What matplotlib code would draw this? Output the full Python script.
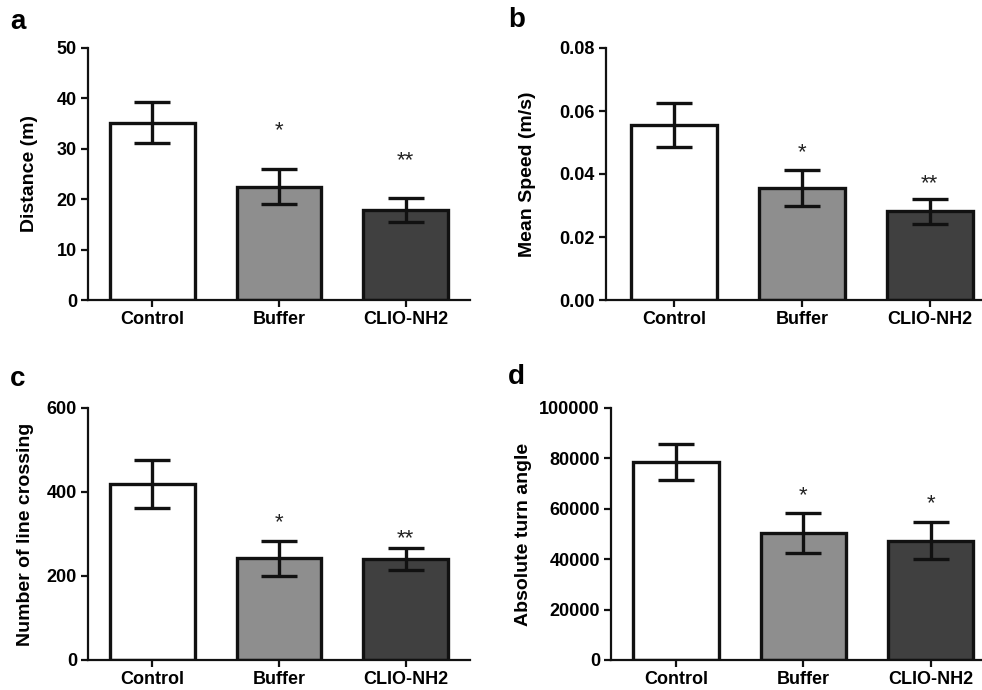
import matplotlib
matplotlib.use('Agg')
import matplotlib.pyplot as plt
import numpy as np

plt.rcParams['font.family'] = ['Liberation Sans', 'DejaVu Sans']
plt.rcParams['font.weight'] = 'bold'

groups = ['Control', 'Buffer', 'CLIO-NH2']
bar_colors = ['#ffffff', '#8e8e8e', '#404040']

# panel data: mean, error (SEM), significance marks, star height
distance = [35.2, 22.5, 17.9]
distance_err = [4.0, 3.4, 2.35]
distance_sig = ['', '*', '**']
distance_star_y = [0, 33.6, 27.6]

speed = [0.0556, 0.0357, 0.0282]
speed_err = [0.007, 0.0057, 0.004]
speed_sig = ['', '*', '**']
speed_star_y = [0, 0.0468, 0.0368]

crossing = [419, 242, 240]
crossing_err = [58, 41, 26]
crossing_sig = ['', '*', '**']
crossing_star_y = [0, 328, 290]

turn = [78500, 50500, 47400]
turn_err = [7150, 7950, 7300]
turn_sig = ['', '*', '*']
turn_star_y = [0, 65200, 61900]

panels = [
    # label, values, err, sig, star y, ylabel, ylim, yticks, ticklabels, axes px, xlim, label pos, ylabel x
    ('a', distance, distance_err, distance_sig, distance_star_y, 'Distance (m)',
     (0, 50), [0, 10, 20, 30, 40, 50], ['0', '10', '20', '30', '40', '50'],
     [88, 48, 300], (-0.508, 2.508), (10, 22), 30),
    ('b', speed, speed_err, speed_sig, speed_star_y, 'Mean Speed (m/s)',
     (0, 0.08), [0, 0.02, 0.04, 0.06, 0.08], ['0.00', '0.02', '0.04', '0.06', '0.08'],
     [606, 48, 300], (-0.53, 2.455), (508, 20), 528),
    ('c', crossing, crossing_err, crossing_sig, crossing_star_y, 'Number of line crossing',
     (0, 600), [0, 200, 400, 600], ['0', '200', '400', '600'],
     [88, 408, 660], (-0.508, 2.508), (10, 379), 26),
    ('d', turn, turn_err, turn_sig, turn_star_y, 'Absolute turn angle',
     (0, 100000), [0, 20000, 40000, 60000, 80000, 100000],
     ['0', '20000', '40000', '60000', '80000', '100000'],
     [611, 408, 660], (-0.51, 2.49), (508, 377), 523),
]

W, H = 982, 690
fig = plt.figure(figsize=(W / 100, H / 100), dpi=100)

x = np.arange(len(groups))
for (lab, vals, errs, sig, sy, ylab, ylim, yt, ytl, px, xl, lpos, ylx) in panels:
    left, top, bottom = px
    ax = fig.add_axes([left / W, (H - bottom) / H, 382 / W, (bottom - top) / H])
    ax.bar(x, vals, width=0.67, color=bar_colors, edgecolor='#111111', linewidth=2.4, zorder=2)
    ax.errorbar(x, vals, yerr=errs, fmt='none', ecolor='#111111', elinewidth=2.4,
                capsize=13, capthick=2.4, zorder=3)
    for i, s in enumerate(sig):
        if s:
            ax.text(x[i], sy[i], s, ha='center', va='center', fontsize=16,
                    fontweight='normal', color='#222222')
    ax.set_xlim(*xl)
    ax.set_ylim(*ylim)
    ax.set_yticks(yt)
    ax.set_yticklabels(ytl)
    ax.set_xticks(x)
    ax.set_xticklabels(groups)
    ax.tick_params(axis='both', labelsize=13, width=1.6, length=5, color='#111111', pad=3)
    for t in ax.get_xticklabels() + ax.get_yticklabels():
        t.set_fontweight('bold')
    for sp in ['top', 'right']:
        ax.spines[sp].set_visible(False)
    for sp in ['left', 'bottom']:
        ax.spines[sp].set_linewidth(1.6)
        ax.spines[sp].set_color('#111111')
    fig.text(ylx / W, (H - (top + bottom) / 2) / H, ylab, rotation=90, ha='center',
             va='center', fontsize=14, fontweight='bold')
    fig.text(lpos[0] / W, (H - lpos[1]) / H, lab, ha='left', va='center',
             fontsize=20, fontweight='bold')

fig.savefig('out.png', dpi=100)
